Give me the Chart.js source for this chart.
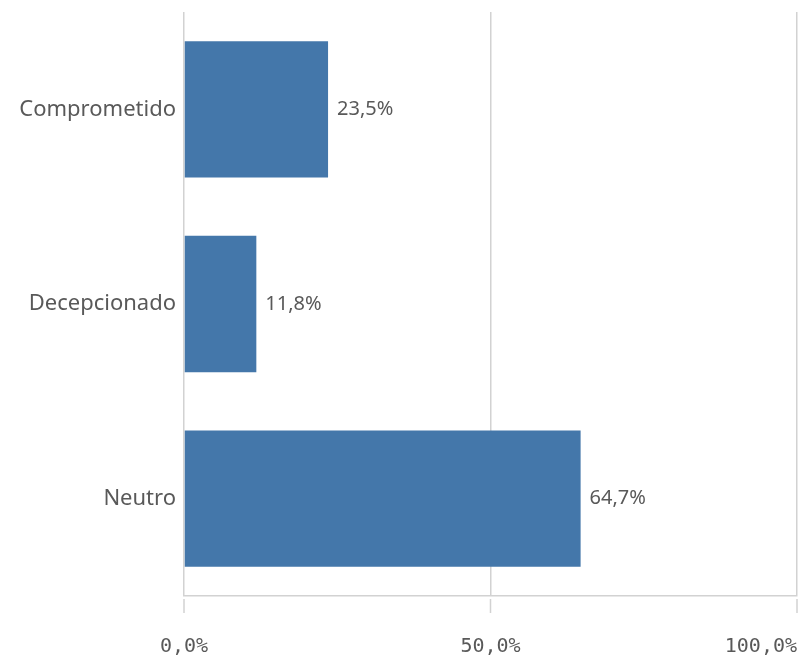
<!DOCTYPE html>
<html>
<head>
<meta charset="utf-8">
<script src="https://cdn.jsdelivr.net/npm/chart.js@4"></script>
<style>
  html, body { margin: 0; padding: 0; background: #fff; }
  #wrap { width: 800px; height: 657px; }
</style>
</head>
<body>
<div id="wrap"><canvas id="chart"></canvas></div>
<script>
const categorias = ['Comprometido', 'Decepcionado', 'Neutro'];
const valores = [23.5, 11.8, 64.7];
const ticksX = [0, 50, 100];
const etiquetasX = ['0,0%', '50,0%', '100,0%'];

const GRIS = '#595959';
const LINEA = '#d2d2d2';

// Etiquetas de valor al final de cada barra
const valorPlugin = {
  id: 'valores',
  afterDatasetsDraw(chart) {
    const ctx = chart.ctx;
    const meta = chart.getDatasetMeta(0);
    ctx.save();
    ctx.font = '20px "Noto Sans"';
    ctx.fillStyle = GRIS;
    ctx.textAlign = 'left';
    ctx.textBaseline = 'middle';
    meta.data.forEach((bar, i) => {
      ctx.fillText(valores[i].toFixed(1).replace('.', ',') + '%', bar.x + 9, bar.y);
    });
    ctx.restore();
  }
};

// Marcas y etiquetas del eje X (separadas de la línea del eje)
const ejeXPlugin = {
  id: 'ejeX',
  afterDraw(chart) {
    const ctx = chart.ctx;
    const x = chart.scales.x;
    const base = chart.chartArea.bottom;
    ctx.save();
    ctx.strokeStyle = LINEA;
    ctx.lineWidth = 1.5;
    ctx.font = '20px "DejaVu Sans Mono"';
    ctx.fillStyle = GRIS;
    ctx.textBaseline = 'middle';
    ticksX.forEach((v, i) => {
      const px = x.getPixelForValue(v);
      ctx.beginPath();
      ctx.moveTo(px, base + 3);
      ctx.lineTo(px, base + 17);
      ctx.stroke();
      const w = ctx.measureText(etiquetasX[i]).width;
      let tx = px - w / 2;
      if (tx + w > chart.width) tx = chart.width - w - 3;
      ctx.textAlign = 'left';
      ctx.fillText(etiquetasX[i], tx, base + 51);
    });
    ctx.restore();
  }
};

new Chart(document.getElementById('chart'), {
  type: 'bar',
  data: {
    labels: categorias,
    datasets: [{
      data: valores,
      backgroundColor: '#4477aa',
      borderWidth: 0,
      categoryPercentage: 1,
      barPercentage: 0.7
    }]
  },
  options: {
    indexAxis: 'y',
    responsive: true,
    maintainAspectRatio: false,
    animation: false,
    layout: { padding: { top: 12, right: 3, left: 0, bottom: 0 } },
    plugins: {
      legend: { display: false },
      tooltip: { enabled: false }
    },
    scales: {
      x: {
        min: 0,
        max: 100,
        afterBuildTicks(scale) {
          scale.ticks = ticksX.map(v => ({ value: v }));
        },
        afterFit(scale) {
          scale.height = 61;
          scale.paddingLeft = 0;
          scale.paddingRight = 0;
        },
        ticks: { display: false },
        grid: { color: LINEA, lineWidth: 1.5, drawTicks: false },
        border: { color: LINEA, width: 1.5 }
      },
      y: {
        afterFit(scale) {
          scale.width = 184;
          scale.paddingTop = 0;
          scale.paddingBottom = 0;
        },
        ticks: {
          color: GRIS,
          font: { family: 'Noto Sans', size: 22 },
          padding: 8
        },
        grid: { display: false, drawTicks: false },
        border: { display: false }
      }
    }
  },
  plugins: [valorPlugin, ejeXPlugin]
});
</script>
</body>
</html>
